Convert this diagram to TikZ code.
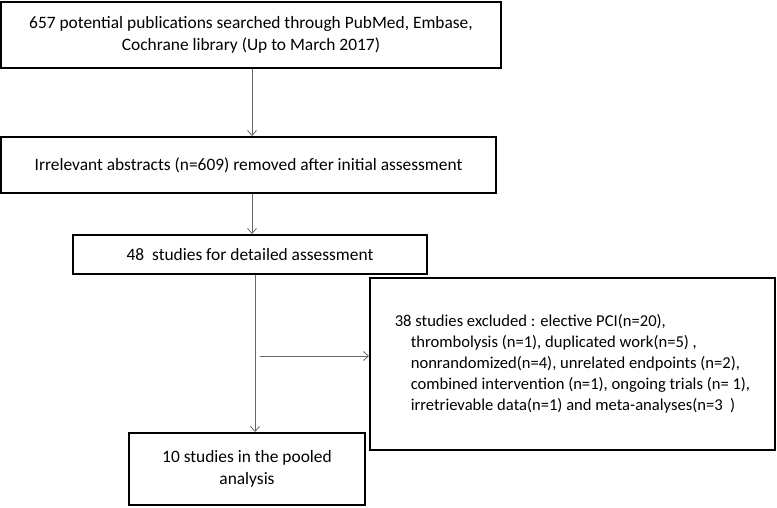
\documentclass[tikz,border=0pt]{standalone}
\usepackage{fontspec}
\setmainfont{Carlito}
\usetikzlibrary{arrows.meta}

\begin{document}
\begin{tikzpicture}[x=1pt, y=-1pt,
  box/.style={draw, line width=2pt, inner sep=0pt, align=center, font=\fontsize{17.4}{22}\selectfont},
  flow/.style={draw=black!60, line width=0.8pt, -{Straight Barb[length=5pt,width=9pt]}}]
\useasboundingbox (0,0) rectangle (777,507);
\node[box, minimum width=500, minimum height=66] (search) at (251,35) {657 potential publications searched through PubMed, Embase,\\ Cochrane library (Up to March 2017)};
\node[box, minimum width=495, minimum height=56] (screen) at (248.5,165) {Irrelevant abstracts (n=609) removed after initial assessment};
\node[box, minimum width=354, minimum height=39] (detail) at (250,254.5) {48 \ studies for detailed assessment};
\node[box, minimum width=405, minimum height=172, align=left, font=\fontsize{16.6}{21}\selectfont] (excl) at (572.5,364) {38 studies excluded : elective PCI(n=20),\\
  \hspace*{16pt}thrombolysis (n=1), duplicated work(n=5) ,\\
  \hspace*{16pt}nonrandomized(n=4), unrelated endpoints (n=2),\\
  \hspace*{16pt}combined intervention (n=1), ongoing trials (n= 1),\\
  \hspace*{16pt}irretrievable data(n=1) and meta-analyses(n=3 \ )};
\node[box, minimum width=236, minimum height=72] (pooled) at (247,469) {10 studies in the pooled\\ analysis};
% arrows
\draw[flow] ([xshift=1pt]search.south) -- ([xshift=1pt]search.south |- screen.north);
\draw[flow] ([xshift=3.5pt]screen.south) -- ([xshift=3.5pt]screen.south |- detail.north);
\draw[flow] ([xshift=5pt]detail.south) -- ([xshift=5pt]detail.south |- pooled.north);
\coordinate (split) at (260,356);
\draw[flow] (split) -- (split -| excl.west);
\end{tikzpicture}
\end{document}
